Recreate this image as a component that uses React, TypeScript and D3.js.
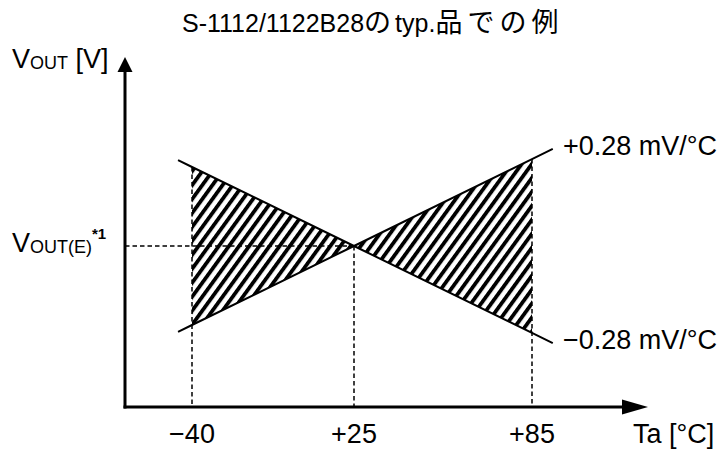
import React from "react";
import * as d3 from "d3";

// Schematic temperature characteristic (typ.)
const titleLatin1 = "S-1112/1122B28";
const titleCjk1 = "の";
const titleLatin2 = "typ.";
const titleCjk2 = "品での例";
const tempTicks = [-40, 25, 85];
const tickLabels = ["−40", "+25", "+85"];
const lineEnds = [-45.6, 92];
const riseDev = [-1.0, 0, 1.1]; // +0.28 mV/°C line (relative deviation)
const fallDev = [1.0, 0, -1.1]; // −0.28 mV/°C line
const riseLabel = "+0.28 mV/°C";
const fallLabel = "−0.28 mV/°C";
const xAxisLabel = "Ta [°C]";

const W = 722;
const H = 450;
const FONT = "'Liberation Sans', Arial, 'Noto Sans CJK JP', sans-serif";
const CJK = "'Noto Sans CJK JP', sans-serif";

export default function App() {
  const origin = { x: 125, y: 407 };
  const xTip = 648;
  const yTip = 57;
  const arrowLen = 26;
  const arrowHalf = 7.5;
  const yArrowLen = 15;

  // schematic (non-proportional) temperature axis
  const x = d3.scaleLinear().domain(tempTicks).range([192, 354, 532]);
  const y = d3.scaleLinear().domain([-1, 1]).range([325, 167]);
  const rise = d3.scaleLinear().domain(tempTicks).range(riseDev);
  const fall = d3.scaleLinear().domain(tempTicks).range(fallDev);

  const pathFor = (f: (t: number) => number) =>
    d3
      .line<number>()
      .x((t) => x(t))
      .y((t) => y(f(t)))([lineEnds[0], tempTicks[0], tempTicks[1], tempTicks[2], lineEnds[1]]) || "";

  const t0 = tempTicks[0], tc = tempTicks[1], t1 = tempTicks[2];
  const leftTri = d3.line<[number, number]>()([
    [x(t0), y(fall(t0))],
    [x(tc), y(0)],
    [x(t0), y(rise(t0))],
  ]) + "Z";
  const rightTri = d3.line<[number, number]>()([
    [x(tc), y(0)],
    [x(t1), y(rise(t1))],
    [x(t1), y(fall(t1))],
  ]) + "Z";

  const dash = "4.5,3";
  const labelSize = 27;
  const subSize = 18;

  return (
    <svg width={W} height={H} style={{ position: "absolute", left: 0, top: 0, background: "#fff" }}>
      <defs>
        <pattern id="hatch" width="8.2" height="8.2" patternUnits="userSpaceOnUse" patternTransform="rotate(36)">
          <rect x="0" y="0" width="3.8" height="8.2" fill="#000" />
        </pattern>
      </defs>
      <rect width={W} height={H} fill="#fff" />

      {/* title */}
      <text x={182} y={32} fontFamily={FONT} fontSize={25} fill="#000">
        <tspan>{titleLatin1}</tspan>
        <tspan fontFamily={CJK} fontSize={27} letterSpacing={4}>{titleCjk1}</tspan>
        <tspan>{titleLatin2}</tspan>
        <tspan fontFamily={CJK} fontSize={27} letterSpacing={5}>{titleCjk2}</tspan>
      </text>

      {/* hatched regions */}
      <path d={leftTri} fill="url(#hatch)" />
      <path d={rightTri} fill="url(#hatch)" />

      {/* dashed guides */}
      <g stroke="#000" strokeWidth={1.5} strokeDasharray={dash} fill="none">
        <line x1={origin.x} x2={x(tc)} y1={y(0)} y2={y(0)} />
        <line x1={x(t0)} x2={x(t0)} y1={y(fall(t0))} y2={origin.y} />
        <line x1={x(tc)} x2={x(tc)} y1={y(0)} y2={origin.y} />
        <line x1={x(t1)} x2={x(t1)} y1={y(rise(t1))} y2={origin.y} />
      </g>

      {/* characteristic lines */}
      <path d={pathFor(rise)} stroke="#000" strokeWidth={2} fill="none" />
      <path d={pathFor(fall)} stroke="#000" strokeWidth={2} fill="none" />

      {/* axes */}
      <g stroke="#000" strokeWidth={3} fill="none">
        <line x1={origin.x} y1={origin.y + 1.5} x2={origin.x} y2={yTip + yArrowLen - 1} />
        <line x1={origin.x - 1.5} y1={origin.y} x2={xTip - arrowLen + 1} y2={origin.y} />
      </g>
      <path
        d={`M${origin.x},${yTip} L${origin.x - arrowHalf},${yTip + yArrowLen} L${origin.x + arrowHalf},${yTip + yArrowLen} Z`}
        fill="#000"
      />
      <path
        d={`M${xTip},${origin.y} L${xTip - arrowLen},${origin.y - arrowHalf} L${xTip - arrowLen},${origin.y + arrowHalf} Z`}
        fill="#000"
      />

      {/* tick labels */}
      {tempTicks.map((t, i) => (
        <text key={t} x={x(t)} y={443} textAnchor="middle" fontFamily={FONT} fontSize={labelSize} fill="#000">
          {tickLabels[i]}
        </text>
      ))}
      <text x={633} y={443} fontFamily={FONT} fontSize={labelSize} fill="#000">{xAxisLabel}</text>

      {/* line labels */}
      <text x={563} y={155} fontFamily={FONT} fontSize={labelSize} fill="#000">{riseLabel}</text>
      <text x={563} y={349} fontFamily={FONT} fontSize={labelSize} fill="#000">{fallLabel}</text>

      {/* y axis label */}
      <text x={12} y={68} fontFamily={FONT} fontSize={labelSize} fill="#000">
        <tspan>V</tspan>
        <tspan fontSize={subSize} dy={1}>OUT</tspan>
        <tspan dy={-1}> [V]</tspan>
      </text>

      {/* V_OUT(E) */}
      <text x={12} y={252} fontFamily={FONT} fontSize={labelSize} fill="#000">
        <tspan>V</tspan>
        <tspan fontSize={subSize} dy={1}>OUT(E)</tspan>
        <tspan fontSize={15} fontWeight="bold" dy={-14}>*1</tspan>
      </text>
    </svg>
  );
}
